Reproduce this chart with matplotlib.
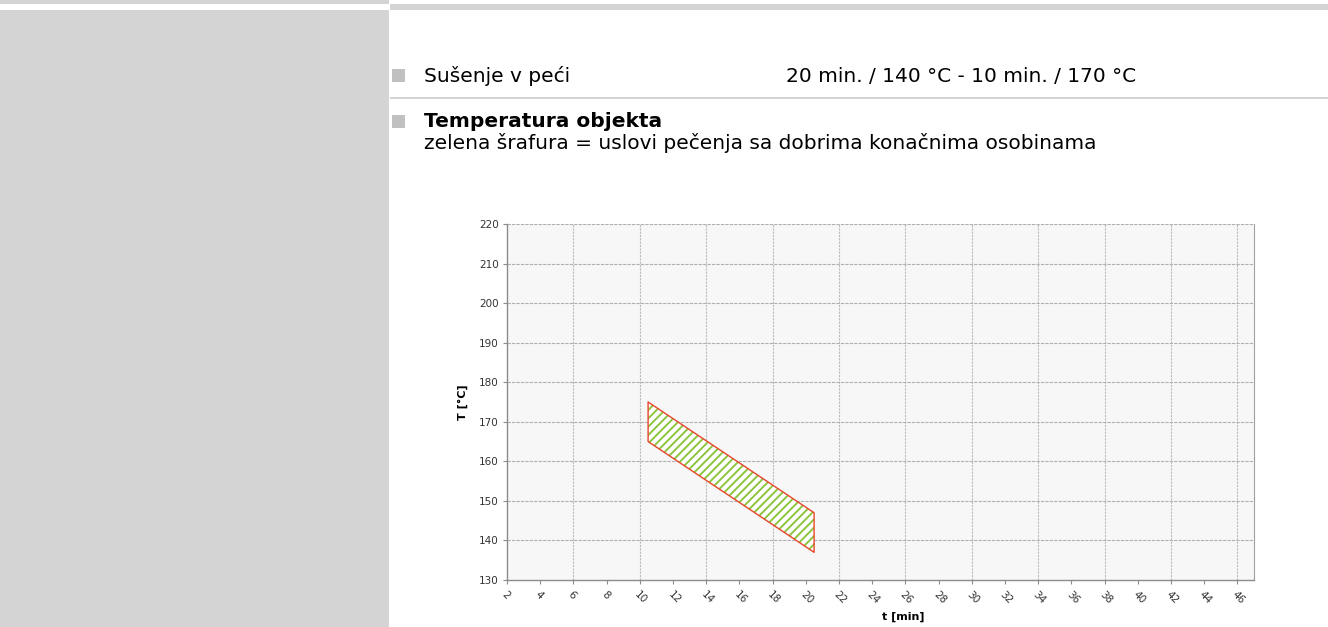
import matplotlib.pyplot as plt
from matplotlib.patches import Rectangle

plt.rcParams['font.family'] = ['DejaVu Sans']
plt.rcParams['hatch.linewidth'] = 1.4

# baking window (green hatched band)
t_min = [10, 20]
T_upper = [175, 147]
T_lower = [165, 137]

x_ticks = list(range(2, 48, 2))
y_ticks = list(range(130, 230, 10))

header_left = 'Sušenje v peći'
header_right = '20 min. / 140 °C - 10 min. / 170 °C'
title = 'Temperatura objekta'
subtitle = 'zelena šrafura = uslovi pečenja sa dobrima konačnima osobinama'

W, H = 1328, 627
fig = plt.figure(figsize=(W / 100, H / 100), dpi=100)


def box(x0, y0, x1, y1, color):
    # rectangle in pixel coords, y measured from the top
    fig.add_artist(Rectangle((x0 / W, 1 - y1 / H), (x1 - x0) / W, (y1 - y0) / H,
                             transform=fig.transFigure, color=color, lw=0))


def text(x, y, s, **kw):
    fig.text(x / W, 1 - y / H, s, va='baseline', **kw)


# page frame
box(0, 0, 389, 4, '#d4d4d4')
box(0, 10, 389, H, '#d4d4d4')
box(390, 4, W, 10, '#d4d4d4')
box(390, 97, W, 99, '#d4d4d4')
box(392, 69, 405, 82, '#c0c0c0')
box(392, 115, 405, 128, '#c0c0c0')

text(424, 82, header_left, fontsize=14.5)
text(786, 82, header_right, fontsize=14.5)
text(424, 127, title, fontsize=14.5, fontweight='bold')
text(424, 149, subtitle, fontsize=14.5)

# chart
ax = fig.add_axes([507 / W, 1 - 580 / H, (1254 - 507) / W, (580 - 224) / H])
ax.set_facecolor('#f7f7f7')

ax.fill_between(t_min, T_lower, T_upper, facecolor='white', edgecolor='#8cc63f',
                hatch='////', linewidth=0, zorder=3)
ax.fill_between(t_min, T_lower, T_upper, facecolor='none', edgecolor='#e8452c',
                linewidth=1.0, zorder=4)

ax.set_xlim(1.5, 46.5)
ax.set_ylim(130, 220)

# tick marks sit half a step left of the label value, as in the source chart
pos = [v - 0.5 for v in x_ticks]
ax.set_xticks(pos)
ax.set_xticklabels([str(v) for v in x_ticks], rotation=-45, ha='left', va='top',
                   rotation_mode='anchor')
ax.set_yticks(y_ticks)

for p in pos[2::2]:
    ax.axvline(p, color='#bcbcbc', lw=0.8, ls=(0, (2, 1)), zorder=1)
for v in y_ticks[1:]:
    ax.axhline(v, color='#b0b0b0', lw=0.8, ls=(0, (3, 1)), zorder=1)

ax.tick_params(labelsize=7.5, colors='#333333', length=3, width=0.8, pad=3)
ax.tick_params(axis='x', color='#8c8c8c', pad=4)
ax.tick_params(axis='y', color='#8c8c8c')

for side in ['left', 'bottom']:
    ax.spines[side].set_color('#8c8c8c')
    ax.spines[side].set_linewidth(1.0)
ax.spines['right'].set_color('#a0a0a0')
ax.spines['right'].set_linewidth(0.8)
ax.spines['top'].set_visible(False)

ax.set_xlabel('t [min]', fontsize=8, fontweight='bold')
ax.xaxis.set_label_coords(0.531, -0.088)
ax.set_ylabel('T [°C]', fontsize=8, fontweight='bold')
ax.yaxis.set_label_coords(-0.052, 0.5)

fig.savefig('out.png', dpi=100)
